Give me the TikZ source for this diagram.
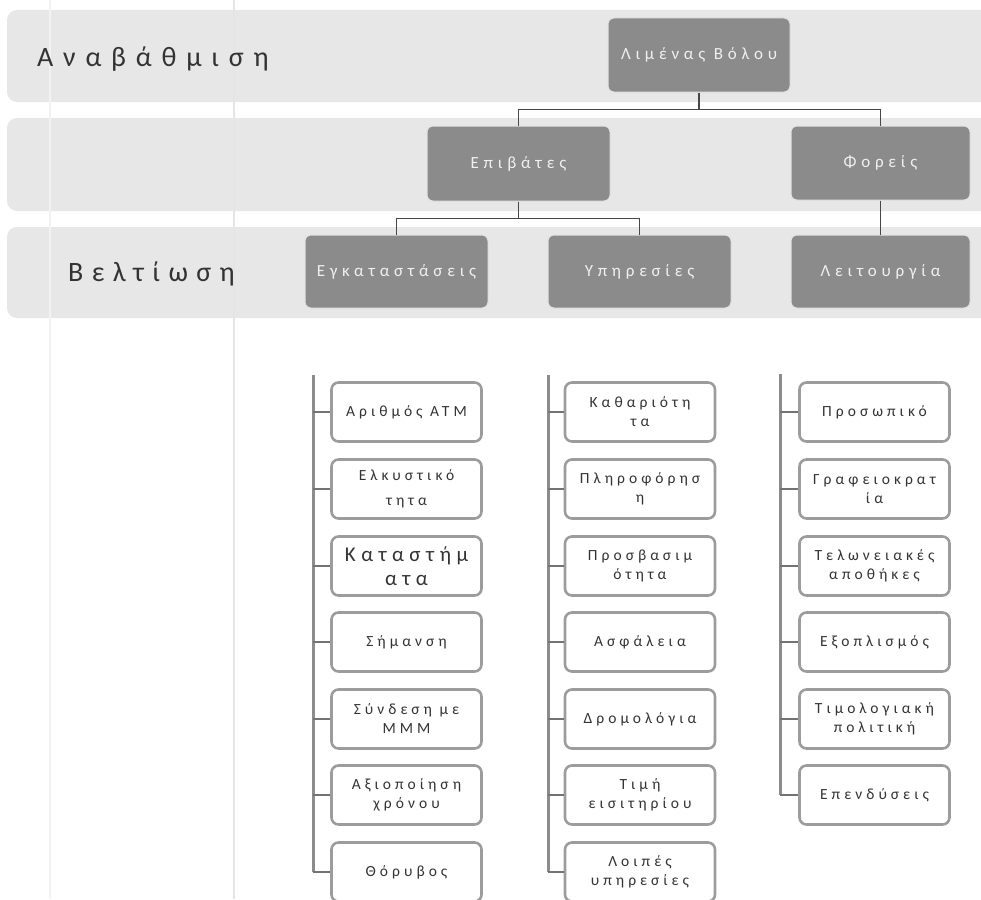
\documentclass[tikz,border=0pt]{standalone}
\usepackage{fontspec}
\setmainfont{Carlito}
\newfontfamily\bigsp[LetterSpace=35]{Carlito}
\newfontfamily\bigspb[LetterSpace=30]{Carlito}
\newfontfamily\nodesp[LetterSpace=28]{Carlito}
\newfontfamily\boxsp[LetterSpace=26]{Carlito}
\definecolor{bandc}{HTML}{E7E7E7}
\definecolor{darkc}{HTML}{8B8B8B}
\definecolor{boxline}{HTML}{9C9C9C}
\definecolor{txt}{HTML}{333333}
\tikzset{
  bandbox/.style={fill=bandc, draw=none, rounded corners=10pt},
  topnode/.style={fill=darkc, draw=white!75!darkc, line width=1pt, rounded corners=6pt,
    text=white!94!black, font=\nodesp\fontsize{17}{19}\selectfont, inner sep=0pt},
  leafbox/.style={draw=boxline, line width=2.6pt, fill=white, rounded corners=7pt,
    minimum width=150pt, minimum height=59pt, align=center, text=txt, inner sep=0pt,
    font=\boxsp\fontsize{15.5}{19}\selectfont},
  conn/.style={draw=black!72, line width=1.8pt},
  colline/.style={draw=black!45, line width=3pt},
  tick/.style={draw=black!55, line width=1.6pt},
  biglabel/.style={text=txt, font=\bigsp\fontsize{28}{30}\selectfont, inner sep=0pt}
}
\begin{document}
\begin{tikzpicture}[x=1pt,y=-1pt]
\useasboundingbox (0,0) rectangle (981,899);
\clip (0,0) rectangle (981,899);
\fill[white] (0,0) rectangle (981,899);
% bands
\path[bandbox] (7,10) rectangle (1000,102);
\path[bandbox] (7,118) rectangle (1000,211);
\path[bandbox] (7,227) rectangle (1000,318);
% faint scan lines
\draw[black!5, line width=2pt] (50,0) -- (50,899);
\draw[black!10, line width=2pt] (234,0) -- (234,899);
% side labels
\node[biglabel, anchor=west] (l1) at (37,59) {Αναβάθμιση};
\node[biglabel, anchor=west, font=\bigspb\fontsize{28}{30}\selectfont] (l2) at (68,274) {Βελτίωση};
% top nodes
\node[topnode, minimum width=182pt, minimum height=74pt] (lv) at (699,55) {Λιμένας Βόλου};
\node[topnode, minimum width=183pt, minimum height=75pt] (ep) at (518.5,163.5) {Επιβάτες};
\node[topnode, minimum width=179pt, minimum height=74pt] (fo) at (880.5,163) {Φορείς};
\node[topnode, minimum width=183pt, minimum height=73pt] (eg) at (396.5,271.5) {Εγκαταστάσεις};
\node[topnode, minimum width=183pt, minimum height=73pt] (yp) at (639.5,271.5) {Υπηρεσίες};
\node[topnode, minimum width=179pt, minimum height=73pt] (le) at (880.5,271.5) {Λειτουργία};
\draw[conn] (lv.south) -- ++(0,17) -| (ep.north);
\draw[conn] (lv.south) -- ++(0,17) -| (fo.north);
\draw[conn] (ep.south) -- ++(0,17) -| (eg.north);
\draw[conn] (ep.south) -- ++(0,17) -| (yp.north);
\draw[conn] (fo.south) -- (le.north);
% column 1
\coordinate (c1) at (313,375);
\node[leafbox] (a1) at (406.5,412) {Αριθμός ATM};
\node[leafbox, font=\boxsp\fontsize{15.5}{25}\selectfont] (a2) at (406.5,489) {Ελκυστικό\\τητα};
\node[leafbox, font=\boxsp\fontsize{21}{24}\selectfont] (a3) at (406.5,566) {Καταστήμ\\ατα};
\node[leafbox] (a4) at (406.5,642) {Σήμανση};
\node[leafbox] (a5) at (406.5,719) {Σύνδεση με\\ΜΜΜ};
\node[leafbox] (a6) at (406.5,795) {Αξιοποίηση\\χρόνου};
\node[leafbox] (a7) at (406.5,872) {Θόρυβος};
\draw[colline] (c1) -- (c1 |- a7.west);
\foreach \n in {a1,a2,a3,a4,a5,a6,a7} \draw[tick] (c1 |- \n.west) -- (\n.west);
% column 2
\coordinate (c2) at (548,375);
\node[leafbox] (b1) at (640,412) {Καθαριότη\\τα};
\node[leafbox] (b2) at (640,489) {Πληροφόρησ\\η};
\node[leafbox] (b3) at (640,566) {Προσβασιμ\\ότητα};
\node[leafbox] (b4) at (640,642) {Ασφάλεια};
\node[leafbox] (b5) at (640,719) {Δρομολόγια};
\node[leafbox] (b6) at (640,795) {Τιμή\\εισιτηρίου};
\node[leafbox] (b7) at (640,872) {Λοιπές\\υπηρεσίες};
\draw[colline] (c2) -- (c2 |- b7.west);
\foreach \n in {b1,b2,b3,b4,b5,b6,b7} \draw[tick] (c2 |- \n.west) -- (\n.west);
% column 3
\coordinate (c3) at (780,374);
\node[leafbox] (d1) at (874.5,412) {Προσωπικό};
\node[leafbox] (d2) at (874.5,489) {Γραφειοκρατ\\ία};
\node[leafbox] (d3) at (874.5,566) {Τελωνειακές\\αποθήκες};
\node[leafbox] (d4) at (874.5,642) {Εξοπλισμός};
\node[leafbox] (d5) at (874.5,719) {Τιμολογιακή\\πολιτική};
\node[leafbox] (d6) at (874.5,795) {Επενδύσεις};
\draw[colline] (c3) -- (c3 |- d6.west);
\foreach \n in {d1,d2,d3,d4,d5,d6} \draw[tick] (c3 |- \n.west) -- (\n.west);
\end{tikzpicture}
\end{document}
